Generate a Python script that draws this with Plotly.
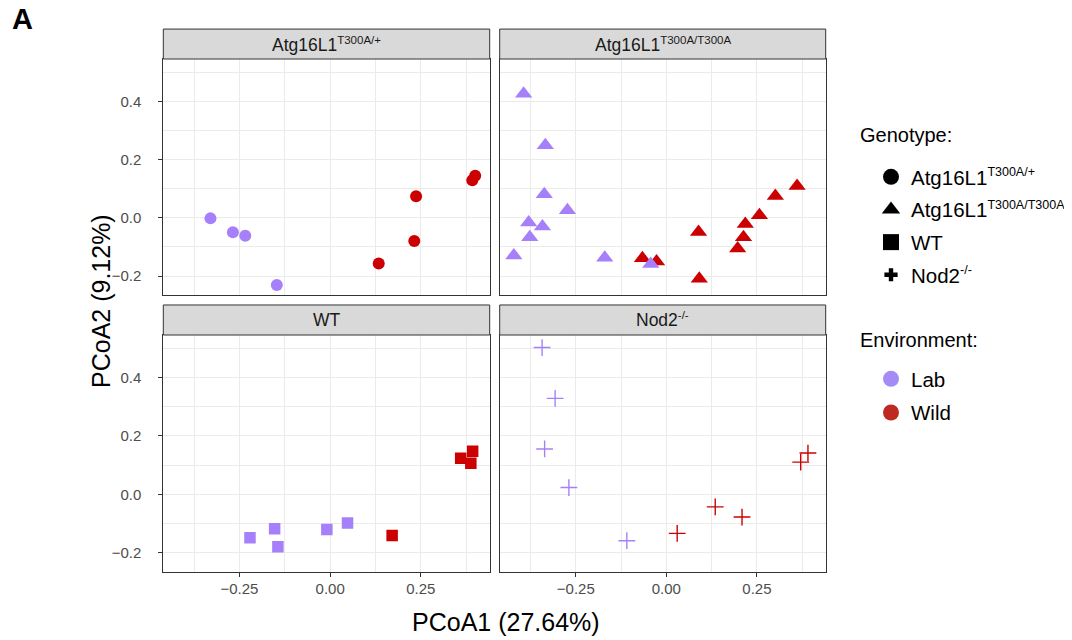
import plotly.graph_objects as go

# ---------------- data ----------------
LAB_COLOR = "#A680FA"
WILD_COLOR = "#CC0000"
LEG_LAB_COLOR = "#A48BF5"
LEG_WILD_COLOR = "#BE2A21"

genotype_names = ["Atg16L1", "Atg16L1", "WT", "Nod2"]
genotype_sups = ["T300A/+", "T300A/T300A", "", "-/-"]
symbols = ["circle", "triangle-up", "square", "cross-thin-open"]
marker_sizes = [12, 15, 11.5, 12]
legend_symbols = ["circle", "triangle-up", "square", "cross"]
legend_sizes = [16, 16, 16, 11]

# Atg16L1 T300A/+  (circles)
het_lab_x = [-0.330, -0.268, -0.234, -0.147]
het_lab_y = [-0.002, -0.050, -0.062, -0.231]
het_wild_x = [0.134, 0.232, 0.237, 0.392, 0.400]
het_wild_y = [-0.157, -0.080, 0.074, 0.129, 0.144]

# Atg16L1 T300A/T300A  (triangles)
hom_lab_x = [-0.394, -0.334, -0.337, -0.273, -0.380, -0.342, -0.377, -0.421, -0.170, -0.043]
hom_lab_y = [0.426, 0.249, 0.081, 0.026, -0.016, -0.030, -0.067, -0.129, -0.137, -0.159]
hom_wild_x = [-0.066, -0.027, 0.089, 0.091, 0.197, 0.213, 0.218, 0.257, 0.301, 0.361]
hom_wild_y = [-0.139, -0.150, -0.049, -0.209, -0.105, -0.067, -0.021, 0.009, 0.075, 0.109]

# WT  (squares)
wt_lab_x = [-0.221, -0.153, -0.144, -0.009, 0.048]
wt_lab_y = [-0.149, -0.118, -0.180, -0.121, -0.098]
wt_wild_x = [0.171, 0.360, 0.393, 0.388]
wt_wild_y = [-0.141, 0.123, 0.147, 0.106]

# Nod2 -/-  (crosses)
nod_lab_x = [-0.343, -0.307, -0.336, -0.269, -0.109]
nod_lab_y = [0.502, 0.328, 0.155, 0.023, -0.159]
nod_wild_x = [0.030, 0.135, 0.209, 0.371, 0.391]
nod_wild_y = [-0.134, -0.043, -0.078, 0.110, 0.141]

lab_x = [het_lab_x, hom_lab_x, wt_lab_x, nod_lab_x]
lab_y = [het_lab_y, hom_lab_y, wt_lab_y, nod_lab_y]
wild_x = [het_wild_x, hom_wild_x, wt_wild_x, nod_wild_x]
wild_y = [het_wild_y, hom_wild_y, wt_wild_y, nod_wild_y]

environments = ["Lab", "Wild"]

x_title = "PCoA1 (27.64%)"
y_title = "PCoA2 (9.12%)"
x_ticks = [-0.25, 0.0, 0.25]
y_ticks = [-0.2, 0.0, 0.2, 0.4]


def label(name, sup, sup_px):
    if not sup:
        return name
    return '%s<sup><span style="font-size:%gpx">%s</span></sup>' % (name, sup_px, sup)


# ---------------- layout geometry ----------------
# the page has an 8px body margin, so the figure is 1064x632 placed at (8, 8)
OFF = 8
W, H = 1072 - OFF, 640 - OFF


def px(p):
    return (p - OFF) / W


def py(p):
    return 1 - (p - OFF) / H


FONT = "Liberation Sans, Arial, Helvetica, sans-serif"
col_dom = [[px(163.3), px(489.7)], [px(499.7), px(825.7)]]
row_dom = [[py(295), py(59)], [py(571.7), py(335)]]
XRANGE = [-0.46, 0.44]
YRANGE = [-0.265, 0.545]
GRID = "#EBEBEB"
BORDER = "#333333"

fig = go.Figure()

for i in range(4):
    ax = "" if i == 0 else str(i + 1)
    xa, ya = "x" + ax, "y" + ax
    sym = symbols[i]
    is_line = sym.startswith("cross-thin")
    for env, xs, ys, col in [("Wild", wild_x[i], wild_y[i], WILD_COLOR),
                             ("Lab", lab_x[i], lab_y[i], LAB_COLOR)]:
        mk = dict(symbol=sym, size=marker_sizes[i], color=col)
        if is_line:
            mk["line"] = dict(width=1.4, color=col)
        else:
            mk["line"] = dict(width=0)
        fig.add_trace(go.Scatter(x=xs, y=ys, mode="markers", marker=mk,
                                 xaxis=xa, yaxis=ya, showlegend=False,
                                 name=env, hoverinfo="x+y+name"))

# legend entries (genotype shapes)
for i in range(4):
    fig.add_trace(go.Scatter(x=[None], y=[None], mode="markers",
                             marker=dict(symbol=legend_symbols[i], size=legend_sizes[i], color="black",
                                         line=dict(width=0)),
                             name=label(genotype_names[i], genotype_sups[i], 12.5),
                             legendgroup="g%d" % i, legend="legend", showlegend=True))
for env, col in zip(environments, [LEG_LAB_COLOR, LEG_WILD_COLOR]):
    fig.add_trace(go.Scatter(x=[None], y=[None], mode="markers",
                             marker=dict(symbol="circle", size=16, color=col, line=dict(width=0)),
                             name=env, legendgroup="e" + env, legend="legend2",
                             showlegend=True))

layout = dict(
    width=W, height=H,
    margin=dict(l=0, r=0, t=0, b=0, autoexpand=False),
    paper_bgcolor="white", plot_bgcolor="white",
    font=dict(family=FONT, color="black"),
    legend=dict(font=dict(size=20.5, family=FONT, color="black"),
                x=px(855), y=py(157), xanchor="left", yanchor="top",
                tracegroupgap=3, bgcolor="rgba(0,0,0,0)", indentation=16),
    legend2=dict(font=dict(size=20.5, family=FONT, color="black"),
                 x=px(855), y=py(359), xanchor="left", yanchor="top",
                 tracegroupgap=4, bgcolor="rgba(0,0,0,0)", indentation=16),
)

shapes = []
annotations = []
for i in range(4):
    r, c = divmod(i, 2)
    ax = "" if i == 0 else str(i + 1)
    xkey, ykey = "xaxis" + ax, "yaxis" + ax
    common = dict(showline=True, linecolor=BORDER, linewidth=1, mirror=True,
                  showgrid=True, gridcolor=GRID, gridwidth=1.1, zeroline=False,
                  tickfont=dict(size=15, color="#4D4D4D", family=FONT),
                  tickcolor=BORDER, ticklen=4, tickwidth=1)
    layout[xkey] = dict(common, domain=col_dom[c], range=XRANGE, anchor="y" + ax,
                        tickvals=x_ticks, tickformat=".2f",
                        minor=dict(dtick=0.125, tick0=0, showgrid=True, gridcolor=GRID, gridwidth=0.6),
                        showticklabels=(r == 1), ticks="outside" if r == 1 else "",
                        ticklabelstandoff=-1)
    layout[ykey] = dict(common, domain=row_dom[r], range=YRANGE, anchor="x" + ax,
                        tickvals=y_ticks, tickformat=".1f",
                        minor=dict(dtick=0.1, tick0=0, showgrid=True, gridcolor=GRID, gridwidth=0.6),
                        showticklabels=(c == 0), ticks="outside" if c == 0 else "",
                        ticklabelstandoff=14)
    # facet strip
    strip_h = 30 / 236.5
    shapes.append(dict(type="rect", xref="x" + ax + " domain", yref="y" + ax + " domain",
                       x0=0, x1=1, y0=1, y1=1 + strip_h,
                       fillcolor="#D9D9D9", line=dict(color=BORDER, width=1), layer="above"))
    annotations.append(dict(text=label(genotype_names[i], genotype_sups[i], 11.5),
                            xref="x" + ax + " domain", yref="y" + ax + " domain",
                            x=0.5, y=1 + strip_h / 2, xanchor="center", yanchor="middle",
                            showarrow=False, font=dict(size=17.5, color="#1A1A1A", family=FONT)))

# legend titles
annotations.append(dict(text="Genotype:", xref="paper", yref="paper", x=px(858), y=py(135),
                        xanchor="left", yanchor="middle", showarrow=False,
                        font=dict(size=20, color="black", family=FONT)))
annotations.append(dict(text="Environment:", xref="paper", yref="paper", x=px(858), y=py(340),
                        xanchor="left", yanchor="middle", showarrow=False,
                        font=dict(size=20, color="black", family=FONT)))

annotations.append(dict(text=x_title, xref="paper", yref="paper", x=px(506), y=py(622),
                        xanchor="center", yanchor="middle", showarrow=False,
                        font=dict(size=25, color="black", family=FONT)))
annotations.append(dict(text=y_title, xref="paper", yref="paper", x=px(101), y=py(301),
                        xanchor="center", yanchor="middle", showarrow=False, textangle=-90,
                        font=dict(size=25, color="black", family=FONT)))
annotations.append(dict(text="<b>A</b>", xref="paper", yref="paper", x=px(10), y=py(19),
                        xanchor="left", yanchor="middle", showarrow=False,
                        font=dict(size=29, color="black", family=FONT)))

layout["shapes"] = shapes
layout["annotations"] = annotations
fig.update_layout(**layout)

fig.write_html("out.html")
